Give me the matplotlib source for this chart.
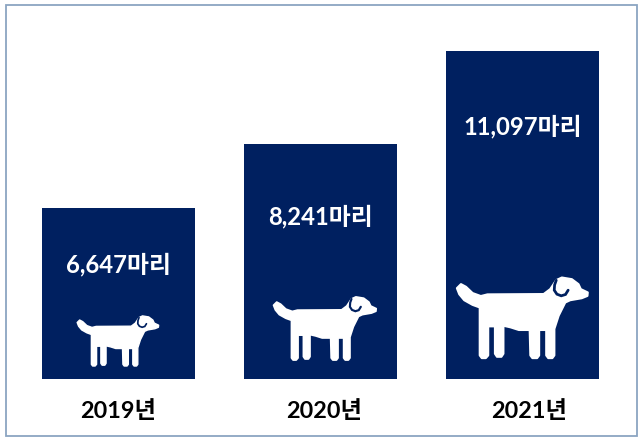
import numpy as np
import matplotlib
matplotlib.use("Agg")
import matplotlib.pyplot as plt
from matplotlib.patches import Polygon, Rectangle
from matplotlib.path import Path
from matplotlib.patches import PathPatch
from matplotlib.transforms import Affine2D

plt.rcParams['font.family'] = ['Lato', 'Noto Sans CJK KR', 'DejaVu Sans']

#DATA
years = ["2019년", "2020년", "2021년"]
dogs = ["6,647마리", "8,241마리", "11,097마리"]
bar_heights = [171, 235, 328] #drawn height read off the picture, not to scale with the counts

#STYLE
navy = "#002060"
dog_widths = [81, 102, 130] #width of dog in pixels
dog_bottoms = [13, 19, 21] #gap between dog feet and bar bottom
dog_shift = [-1.5, 3.5, -1] #sideways nudge in pixels
label_drop = [57, 73, 76] #gap between bar top and label centre
year_shift = [0, 0.017, 0.035] #year labels drift right of the bars

#dog outline
dog_outline = np.array([
    (78, 82), (90, 70), (105, 78), (125, 97), (150, 106), (170, 101), (340, 100), (360, 85),
    (378, 58), (395, 50), (425, 55), (445, 70), (452, 85), (473, 95), (472, 105), (455, 112),
    (420, 118), (405, 125), (385, 165), (372, 205), (372, 285), (366, 293), (354, 293), (348, 285),
    (348, 208), (326, 208), (326, 285), (320, 293), (306, 293), (300, 285), (298, 208), (265, 208),
    (240, 200), (218, 195), (218, 280), (212, 289), (199, 289), (193, 280), (193, 197), (172, 197),
    (172, 285), (165, 293), (153, 293), (147, 285), (147, 140), (125, 132), (100, 118), (85, 100),
])
ear_line = np.array([(378, 58), (373, 72), (372, 88), (380, 100), (393, 105), (406, 101), (414, 88)])

fig = plt.figure(figsize=(6.43, 4.41), dpi=100)
ax = fig.add_axes([0, 0, 1, 1])
ax.set_xlim(-0.5866, 2.5965)
ax.set_ylim(-62, 379)
ax.axis("off")

ax.add_patch(Rectangle((5.5 / 643, 5 / 441), 631 / 643, 431 / 441, transform=fig.transFigure,
                       facecolor="white", edgecolor="#8BA5C2", linewidth=1.3, zorder=0))

xpos = np.arange(len(years))
ax.bar(xpos, bar_heights, width=0.76, color=navy, zorder=2)

for i in range(len(years)):
    ax.text(i, bar_heights[i] - label_drop[i], dogs[i], color="white", fontsize=17.2,
            fontweight="bold", ha="center", va="center", zorder=4)
    ax.text(i + year_shift[i], -32, years[i], color="black", fontsize=16.8, fontweight="bold",
            ha="center", va="center", zorder=4)

    #dog goes on in pixel units so it keeps its shape
    s = dog_widths[i] / (473 - 80)
    cx, base = ax.transData.transform((i, dog_bottoms[i]))
    tr = Affine2D().translate(-276, -293).scale(s, -s).translate(cx + 1 + dog_shift[i], base)
    ax.add_patch(Polygon(dog_outline, closed=True, facecolor="white", edgecolor="white",
                         linewidth=s * 5, joinstyle="round", transform=tr, zorder=3))
    ax.add_patch(PathPatch(Path(ear_line), facecolor="none", edgecolor=navy, linewidth=s * 6,
                           capstyle="round", transform=tr, zorder=4))

fig.savefig("out.png", dpi=100)
